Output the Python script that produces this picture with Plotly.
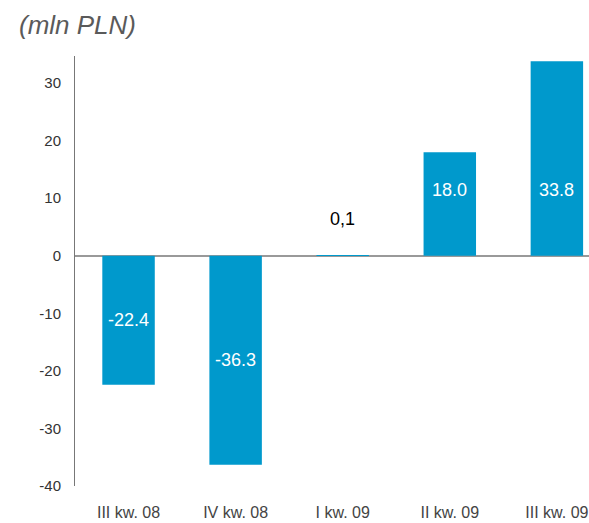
import plotly.graph_objects as go

categories = ["III kw. 08", "IV kw. 08", "I kw. 09", "II kw. 09", "III kw. 09"]
values = [-22.4, -36.3, 0.1, 18.0, 33.8]
value_labels = ["-22.4", "-36.3", "0,1", "18.0", "33.8"]
y_ticks = [-40, -30, -20, -10, 0, 10, 20, 30]
y_tick_labels = ["-40", "-30", "-20", "-10", "0", "10", "20", "30"]

FONT = "Liberation Sans, Arial"

fig = go.Figure()
fig.add_trace(go.Bar(
    x=categories, y=values,
    marker=dict(color="#0099cc", line=dict(width=0)),
    hoverinfo="skip",
))

for c, v, t in zip(categories, values, value_labels):
    if abs(v) < 1:
        fig.add_annotation(x=c, y=v, text=t, showarrow=False, yshift=36,
                           font=dict(color="#000000", size=18, family=FONT))
    else:
        ly = v / 2 if v < 0 else 11.4
        fig.add_annotation(x=c, y=ly, text=t, showarrow=False,
                           font=dict(color="#ffffff", size=18, family=FONT))

fig.add_annotation(xref="paper", yref="paper", x=-58/514, y=1 + 31/430, xanchor="left", yanchor="middle",
                   text="<i>(mln PLN)</i>", showarrow=False,
                   font=dict(size=26, color="#5a5a5a", family=FONT))

fig.update_layout(
    width=589, height=523,
    margin=dict(l=75, r=0, t=56, b=37),
    paper_bgcolor="white", plot_bgcolor="white",
    bargap=0.51,
    showlegend=False,
    font=dict(family=FONT, color="#333333"),
)
fig.update_xaxes(
    range=[-0.5, 4.3], showgrid=False, showline=False, zeroline=False,
    ticks="", ticklabelstandoff=15, automargin=False,
    tickfont=dict(size=16, color="#444444"),
)
fig.update_yaxes(
    range=[-40, 34.7], tickvals=y_ticks, ticktext=y_tick_labels, showgrid=False,
    showline=True, linecolor="#777777", linewidth=1,
    zeroline=True, zerolinecolor="#999999", zerolinewidth=1.5,
    ticks="", ticklabelstandoff=10, automargin=False,
    tickfont=dict(size=15, color="#333333"),
)

fig.write_html("out.html", config={"displayModeBar": False},
               post_script="document.body.style.margin='0';document.body.style.overflow='hidden';")
